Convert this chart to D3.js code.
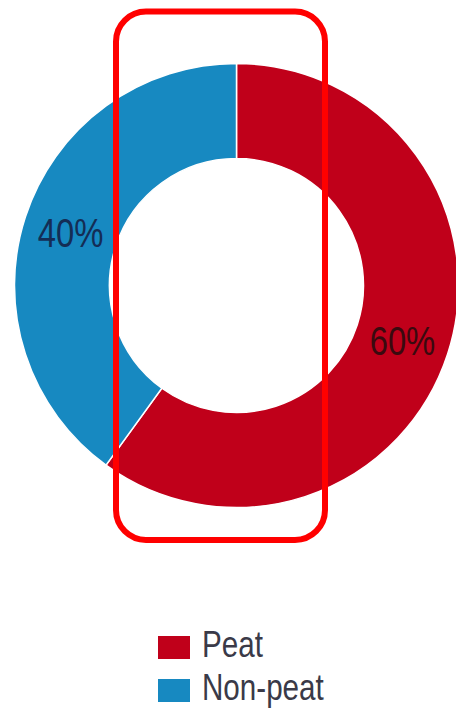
<!DOCTYPE html>
<html>
<head>
<meta charset="utf-8">
<script src="https://cdn.jsdelivr.net/npm/d3@7"></script>
<style>
  body { margin: 0; background: #fff; }
  svg { display: block; }
</style>
</head>
<body>
<div id="chart"></div>
<script>
// chart data
var categories = ["Peat", "Non-peat"];
var values = [60, 40];
var labels = ["60%", "40%"];
var colors = ["#c0001a", "#1789c1"];
var labelColors = ["#3a0a0f", "#142d55"];

var width = 456, height = 708;
var narrow = 0.8; // no condensed font installed, squeeze text horizontally

var svg = d3.select("#chart")
  .append("svg")
  .attr("width", width)
  .attr("height", height);

var cx = 236.5, cy = 285.5;
var outerR = 222, innerR = 127;

var pie = d3.pie().sort(null).value(function(d) { return d; });
var arc = d3.arc().innerRadius(innerR).outerRadius(outerR);
var labelArc = d3.arc().innerRadius((innerR + outerR) / 2).outerRadius((innerR + outerR) / 2);

var g = svg.append("g")
  .attr("transform", "translate(" + cx + "," + cy + ")");

var slices = pie(values);

g.selectAll("path.slice")
  .data(slices)
  .enter()
  .append("path")
  .attr("class", "slice")
  .attr("d", arc)
  .attr("fill", function(d, i) { return colors[i]; })
  .attr("stroke", "#fff")
  .attr("stroke-width", 1.5);

// percent labels
g.selectAll("text.pct")
  .data(slices)
  .enter()
  .append("text")
  .attr("class", "pct")
  .attr("transform", function(d) {
    var c = labelArc.centroid(d);
    return "translate(" + c[0] + "," + (c[1] + 1) + ") scale(" + narrow + ",1)";
  })
  .attr("text-anchor", "middle")
  .attr("dominant-baseline", "central")
  .style("font-family", "'Liberation Sans', Arial, sans-serif")
  .style("font-size", "41px")
  .attr("fill", function(d, i) { return labelColors[i]; })
  .text(function(d, i) { return labels[i]; });

// legend
var legend = svg.append("g")
  .attr("transform", "translate(158, 634)");

var item = legend.selectAll("g.item")
  .data(categories)
  .enter()
  .append("g")
  .attr("class", "item")
  .attr("transform", function(d, i) { return "translate(0," + (i * 43) + ")"; });

item.append("rect")
  .attr("x", 0)
  .attr("y", 2)
  .attr("width", 32)
  .attr("height", 23)
  .attr("fill", function(d, i) { return colors[i]; });

item.append("text")
  .attr("transform", "translate(44,23) scale(" + narrow + ",1)")
  .style("font-family", "'Liberation Sans', Arial, sans-serif")
  .style("font-size", "37px")
  .attr("fill", "#3a3a48")
  .text(function(d) { return d; });

// red highlight frame
svg.append("rect")
  .attr("x", 116)
  .attr("y", 11.5)
  .attr("width", 209)
  .attr("height", 528.5)
  .attr("rx", 30)
  .attr("ry", 30)
  .attr("fill", "none")
  .attr("stroke", "#ff0000")
  .attr("stroke-width", 6);
</script>
</body>
</html>
